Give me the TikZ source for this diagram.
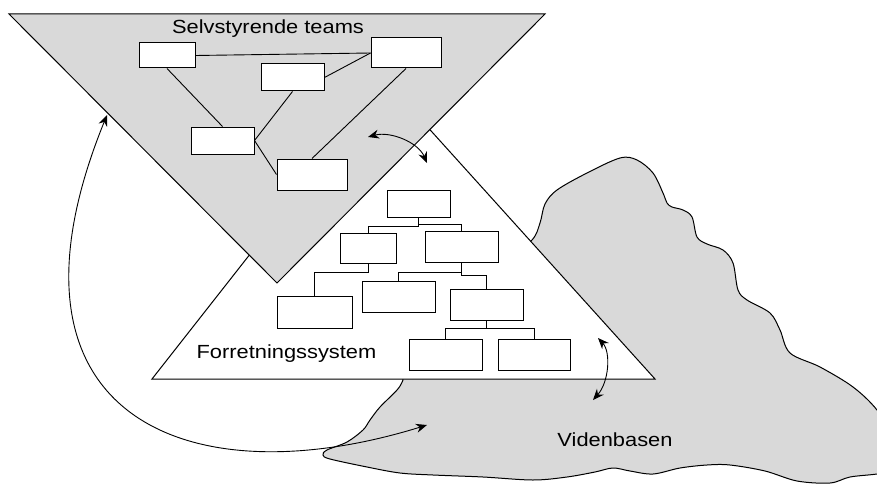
\documentclass[tikz,border=0pt]{standalone}
\usepackage{fontspec}
\usepackage{graphicx}
\setmainfont{Liberation Sans}
\usetikzlibrary{arrows.meta}
\definecolor{shade}{RGB}{217,217,217}
\begin{document}
\begin{tikzpicture}[x=1pt,y=-1pt,
  outline/.style={draw=black, line width=1pt, line join=miter},
  unit/.style 2 args={draw=black, fill=white, line width=1pt, inner sep=0pt,
    minimum width=#1pt, minimum height=#2pt},
  link/.style={draw=black, line width=0.9pt},
  twoway/.style={line width=0.9pt,
    arrows={Stealth[length=11pt,width=9pt]-Stealth[length=11pt,width=9pt]}},
  caption/.style={anchor=base, inner sep=0pt, font=\fontsize{19}{23}\selectfont}
]
\useasboundingbox (0,0) rectangle (877,484);
\clip (0,0) rectangle (877,484);

% knowledge base cloud
\path[outline, fill=shade] plot[smooth cycle, tension=0.55] coordinates {
  (505,262) (532,240) (540,223) (545,204) (557,190) (587,173) (620,158)
  (637,160) (653,173) (663,193) (667,203) (672,207) (683,210) (692,217)
  (697,237) (707,244) (723,250) (733,263) (738,290) (747,300) (770,313)
  (780,330) (790,353) (820,367) (853,387) (877,410) (895,440) (895,470)
  (877,474) (850,477) (830,483) (797,481) (765,471) (730,465) (707,465)
  (680,468) (653,474) (630,471) (613,468) (595,472) (567,477) (533,480)
  (483,477) (433,475) (400,473) (367,467) (330,459) (323,455) (327,450)
  (347,442) (363,430) (370,420) (380,407) (397,390) (403,380) (410,360)};

% business system triangle
\path[outline, fill=white] (386,81) -- (152,379) -- (655,379) -- cycle;

% self-managing teams triangle
\path[outline, fill=shade] (9,14) -- (545,14) -- (277,283) -- cycle;

\node[caption] (selv) at (268,33.3) {\scalebox{1.15}[1]{Selvstyrende teams}};
\node[caption] (forr) at (286.5,358.3) {\scalebox{1.15}[1]{Forretningssystem}};
\node[caption] (viden) at (615,446.7) {\scalebox{1.15}[1]{Videnbasen}};

% team network
\node[unit={56}{25}] (A) at (167,55.5) {};
\node[unit={70}{30}] (B) at (406,53) {};
\node[unit={63}{27}] (C) at (292.5,77.5) {};
\node[unit={63}{27}] (D) at (222.5,140.5) {};
\node[unit={70}{31}] (E) at (312,174.5) {};
\draw[link] (A.east) -- (B.west);
\draw[link] (C.east) -- (B.west);
\draw[link] (A.south) -- (D.north);
\draw[link] (C.south) -- (D.east);
\draw[link] (D.east) -- (E.west);
\draw[link] (B.south) -- (E.north);

% organisation chart
\node[unit={63}{27}] (T) at (418.5,203.5) {};
\node[unit={56}{30}] (L1a) at (368,248) {};
\node[unit={73}{31}] (L1b) at (461.5,246.5) {};
\node[unit={75}{32}] (L2a) at (314.5,312) {};
\node[unit={73}{31}] (L2b) at (398.5,296.5) {};
\node[unit={73}{31}] (L2c) at (486.5,304.5) {};
\node[unit={73}{31}] (L3a) at (445.5,354.5) {};
\node[unit={72}{31}] (L3b) at (534,354.5) {};
\draw[link] (T.south) -- ++(0,8.5) -| (L1a.north);
\draw[link] (T.south) -- ++(0,6.5) -| (L1b.north);
\draw[link] (L1a.south) -- ++(0,9) -| (L2a.north);
\draw[link] (L1b.south) -- ++(0,9.5) -| (L2b.north);
\draw[link] (L1b.south) -- ++(0,13) -| (L2c.north);
\draw[link] (L2c.south) -- ++(0,8) -| (L3a.north);
\draw[link] (L2c.south) -- ++(0,8) -| (L3b.north);

% exchanges between the three parts
\coordinate (teamTip) at (368,137);
\coordinate (sysTip) at (427,163);
\coordinate (sysLow) at (598,338);
\coordinate (baseTop) at (593,400);
\coordinate (teamEdge) at (107,115);
\coordinate (baseLeft) at (427,425);
\draw[twoway] (teamTip) .. controls (390,131) and (418,142) .. (sysTip);
\draw[twoway] (sysLow) .. controls (611,352) and (609,382) .. (baseTop);
\draw[twoway] (teamEdge) .. controls (-15,415) and (185,500) .. (baseLeft);
\end{tikzpicture}
\end{document}
